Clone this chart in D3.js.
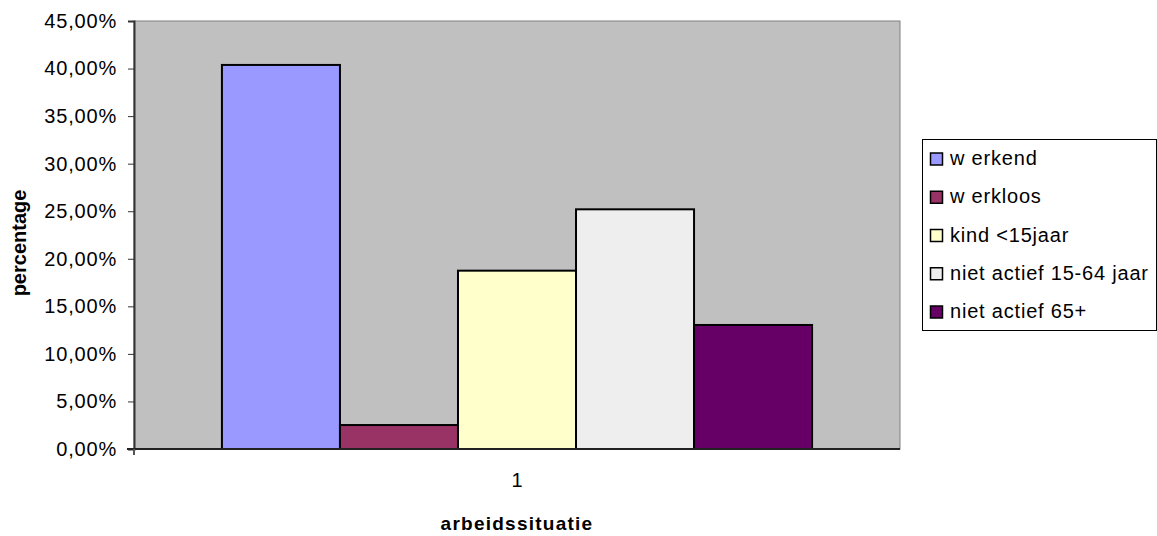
<!DOCTYPE html>
<html><head><meta charset="utf-8">
<script src="https://cdn.jsdelivr.net/npm/d3@7"></script>
<style>body{margin:0;background:#fff;}svg{display:block;font-family:"Liberation Sans",Arial,sans-serif;}</style>
</head><body>
<svg id="c" width="1157" height="536"></svg>
<script>
const categories = ["1"];
const seriesNames = ["w erkend","w erkloos","kind <15jaar","niet actief 15-64 jaar","niet actief 65+"];
const seriesValues = [0.4038, 0.0252, 0.1875, 0.252, 0.1304];
const seriesColors = ["#9999ff","#993366","#ffffcc","#eeeeee","#660066"];
const yTicks = [0,0.05,0.10,0.15,0.20,0.25,0.30,0.35,0.40,0.45];

const FF = "Liberation Sans, Arial, sans-serif";
const svg = d3.select("#c");
const L=134, R=900, T=21, B=449;
const y = d3.scaleLinear().domain([0,0.45]).range([B,T]);
const x0 = d3.scaleBand().domain(categories).range([L,R]).paddingInner(0).paddingOuter(0.149);
const x1 = d3.scaleBand().domain(seriesNames).range([0,x0.bandwidth()]).padding(0);
const color = d3.scaleOrdinal().domain(seriesNames).range(seriesColors);

svg.append("rect").attr("x",L).attr("y",T).attr("width",R-L).attr("height",B-T)
  .attr("fill","#c0c0c0").attr("stroke","#808080").attr("stroke-width",1);

const fmt = v => d3.format(".2f")(v*100).replace(".",",")+"%";
const yAxis = d3.axisLeft(y).tickValues(yTicks).tickFormat(fmt).tickSize(6).tickPadding(11);
const ga = svg.append("g").attr("transform",`translate(${L},0)`).call(yAxis);
ga.attr("font-size",20).attr("font-family",FF);
ga.select(".domain").attr("stroke","#333").attr("stroke-width",2);
ga.selectAll(".tick line").attr("stroke","#333");
ga.selectAll("text").attr("fill","#000").attr("letter-spacing","0.8px");

const g = svg.append("g");
categories.forEach(cat=>{
  g.selectAll("rect.bar").data(seriesNames.map((s,i)=>({s,v:seriesValues[i]}))).enter()
   .append("rect").attr("class","bar")
   .attr("x",d=>x0(cat)+x1(d.s)).attr("y",d=>y(d.v))
   .attr("width",x1.bandwidth()).attr("height",d=>B-y(d.v))
   .attr("fill",d=>color(d.s)).attr("stroke","#000").attr("stroke-width",2);
});

const xAxis = d3.axisBottom(x0).tickSize(0).tickPadding(24);
const gx = svg.append("g").attr("transform",`translate(0,${B})`).call(xAxis);
gx.attr("font-size",20).attr("font-family",FF);
gx.select(".domain").attr("stroke","#222").attr("stroke-width",2).attr("d",`M${L-7},0H${R}`);
gx.selectAll("text").attr("fill","#000");
svg.append("line").attr("x1",L).attr("x2",L).attr("y1",B).attr("y2",B+6).attr("stroke","#555").attr("stroke-width",2);

svg.append("text").attr("transform","translate(26,243) rotate(-90)").attr("text-anchor","middle")
  .attr("font-size",20).attr("font-weight","bold").text("percentage");
svg.append("text").attr("x",517).attr("y",530).attr("text-anchor","middle")
  .attr("font-size",19).attr("font-weight","bold").attr("letter-spacing","1.25px").text("arbeidssituatie");

const lg = svg.append("g");
lg.append("rect").attr("x",922.5).attr("y",139.5).attr("width",234).attr("height",191)
  .attr("fill","#fff").attr("stroke","#000").attr("stroke-width",1);
const ly = d3.scalePoint().domain(seriesNames).range([165,318]);
seriesNames.forEach(s=>{
  lg.append("rect").attr("x",930.5).attr("y",ly(s)-12).attr("width",12).attr("height",12)
    .attr("fill",color(s)).attr("stroke","#000").attr("stroke-width",1.5);
  lg.append("text").attr("x",950).attr("y",ly(s)).attr("font-size",20).attr("letter-spacing","0.8px").attr("fill","#000").text(s);
});
</script>
</body></html>
